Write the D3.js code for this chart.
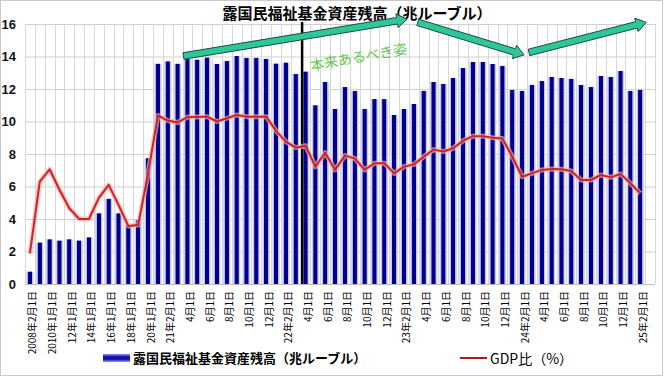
<!DOCTYPE html>
<html>
<head>
<meta charset="utf-8">
<script src="https://cdn.jsdelivr.net/npm/d3@7/dist/d3.min.js"></script>
<style>
  html, body { margin: 0; padding: 0; background: #fff; }
  svg { display: block; }
</style>
</head>
<body>
<svg id="chart" width="665" height="378"></svg>
<script>
// ---------------- DATA ----------------
const categories = [
  "2008年2月1日","2009年1月1日","2010年1月1日","11年1月1日","12年1月1日","13年1月1日",
  "14年1月1日","15年1月1日","16年1月1日","17年1月1日","18年1月1日","19年1月1日",
  "20年1月1日","21年1月1日","21年2月1日","3月1日","4月1日","5月1日","6月1日","7月1日",
  "8月1日","9月1日","10月1日","11月1日","12月1日","22年1月1日","22年2月1日","3月1日",
  "4月1日","5月1日","6月1日","7月1日","8月1日","9月1日","10月1日","11月1日","12月1日",
  "23年1月1日","23年2月1日","3月1日","4月1日","5月1日","6月1日","7月1日","8月1日",
  "9月1日","10月1日","11月1日","12月1日","24年1月1日","24年2月1日","3月1日","4月1日",
  "5月1日","6月1日","7月1日","8月1日","9月1日","10月1日","11月1日","12月1日",
  "25年1月1日","25年2月1日","25年3月1日"
];

// 露国民福祉基金資産残高（兆ルーブル）
const fundValues = [
  0.76,2.55,2.75,2.67,2.75,2.67,2.87,4.35,5.24,4.35,3.63,3.94,7.74,
  13.55,13.7,13.55,13.84,13.8,13.93,13.54,13.72,
  14.03,13.91,13.91,13.85,13.56,13.62,12.92,13.07,
  11.0,12.43,10.77,12.12,11.88,10.77,11.38,11.38,10.4,10.77,11.08,11.88,12.43,12.31,
  12.68,13.29,13.66,13.66,13.54,13.42,11.94,11.88,12.25,12.49,12.74,12.68,12.62,12.25,12.12,12.8,12.74,13.11,11.88,11.94,
  null
];

// GDP比（%）
const gdpRatio = [
  1.89,6.3,7.06,5.8,4.66,4.0,4.0,5.3,6.1,4.87,3.57,3.63,6.8,
  10.37,10.06,9.94,10.27,10.27,10.3,10.0,10.2,
  10.4,10.3,10.3,10.3,9.42,8.76,8.39,8.51,
  7.22,8.08,7.02,7.9,7.73,7.02,7.43,7.43,6.81,7.22,7.36,7.83,8.27,8.15,
  8.35,8.82,9.1,9.1,9.0,8.96,7.83,6.6,6.81,7.02,7.08,7.06,6.95,6.4,6.4,6.71,6.56,6.77,6.2,5.58,
  null
];

const yTicks = [0, 2, 4, 6, 8, 10, 12, 14, 16];
const titleText = "露国民福祉基金資産残高（兆ルーブル）";
const legendFund = "露国民福祉基金資産残高（兆ルーブル）";
const legendGdp = "GDP比（%）";
const noteText = "本来あるべき姿";

// ---------------- LAYOUT ----------------
const svg = d3.select("#chart");
const W = 665, H = 378;
const plot = { left: 25, right: 655, top: 24, bottom: 284 };
const JP = "'Noto Sans CJK JP', 'Noto Sans', sans-serif";

const idx = d3.range(categories.length);
const x = d3.scaleBand().domain(idx).range([plot.left, plot.right]).paddingInner(0).paddingOuter(0);
const bw = x.bandwidth();
const xc = i => plot.left + (i + 0.5) * bw;   // fractional-index center helper
const y = d3.scaleLinear().domain([0, 16]).range([plot.bottom, plot.top]);

// outer frame
svg.append("rect").attr("x", 0.5).attr("y", 0.5).attr("width", W - 3).attr("height", H - 3)
  .attr("fill", "#fff").attr("stroke", "#c8c8c8");

const defs = svg.append("defs");
const g1 = defs.append("linearGradient").attr("id", "barGrad").attr("x1", "0").attr("x2", "1").attr("y1", "0").attr("y2", "0");
g1.append("stop").attr("offset", "0%").attr("stop-color", "#e4e4fa");
g1.append("stop").attr("offset", "20%").attr("stop-color", "#b9b9ee");
g1.append("stop").attr("offset", "28%").attr("stop-color", "#00008a");
g1.append("stop").attr("offset", "72%").attr("stop-color", "#00008a");
g1.append("stop").attr("offset", "80%").attr("stop-color", "#b9b9ee");
g1.append("stop").attr("offset", "100%").attr("stop-color", "#e4e4fa");

const g2 = defs.append("linearGradient").attr("id", "legGrad").attr("x1", "0").attr("x2", "0").attr("y1", "0").attr("y2", "1");
g2.append("stop").attr("offset", "0%").attr("stop-color", "#9a9af0");
g2.append("stop").attr("offset", "35%").attr("stop-color", "#1010b0");
g2.append("stop").attr("offset", "65%").attr("stop-color", "#1010b0");
g2.append("stop").attr("offset", "100%").attr("stop-color", "#9a9af0");

// gridlines
const grid = svg.append("g");
grid.selectAll("line.h").data(yTicks).enter().append("line")
  .attr("x1", plot.left).attr("x2", plot.right)
  .attr("y1", d => y(d) + 0.5).attr("y2", d => y(d) + 0.5)
  .attr("stroke", "#cfcfcf").attr("stroke-width", 1);
grid.selectAll("line.v").data(d3.range(categories.length + 1)).enter().append("line")
  .attr("x1", d => Math.round(plot.left + d * bw) + 0.5).attr("x2", d => Math.round(plot.left + d * bw) + 0.5)
  .attr("y1", plot.top).attr("y2", plot.bottom)
  .attr("stroke", "#d6d6d6").attr("stroke-width", 1);

// bars
const barW = bw * 0.78;
svg.append("g").selectAll("rect").data(idx.filter(i => fundValues[i] != null)).enter().append("rect")
  .attr("x", i => x(i) + (bw - barW) / 2)
  .attr("width", barW)
  .attr("y", i => y(fundValues[i]))
  .attr("height", i => y(0) - y(fundValues[i]))
  .attr("fill", "url(#barGrad)");

// axis baseline
svg.append("line").attr("x1", plot.left).attr("x2", plot.right).attr("y1", plot.bottom + 0.5).attr("y2", plot.bottom + 0.5)
  .attr("stroke", "#bdbdbd");

// black vertical marker line
svg.append("line").attr("x1", xc(27.65)).attr("x2", xc(27.65)).attr("y1", plot.top - 2).attr("y2", plot.bottom)
  .attr("stroke", "#000").attr("stroke-width", 2.5);

// GDP line with glow
const lineGen = d3.line().defined(i => gdpRatio[i] != null)
  .x(i => xc(i)).y(i => y(gdpRatio[i])).curve(d3.curveLinear);
svg.append("path").datum(idx).attr("d", lineGen).attr("fill", "none")
  .attr("stroke", "#f4b0b0").attr("stroke-width", 5).attr("stroke-opacity", 0.7).attr("stroke-linejoin", "round");
svg.append("path").datum(idx).attr("d", lineGen).attr("fill", "none")
  .attr("stroke", "#cf2222").attr("stroke-width", 2).attr("stroke-linejoin", "round");

// y axis labels
const yAxis = d3.axisLeft(y).tickValues(yTicks).tickSize(0).tickPadding(0);
const ya = svg.append("g").attr("transform", `translate(${plot.left - 9},0)`).call(yAxis);
ya.select(".domain").remove();
ya.selectAll("text").attr("font-family", "'Liberation Sans', Arial, sans-serif")
  .attr("font-size", 13).attr("font-weight", "bold").attr("fill", "#111");

// x axis labels (every other category)
const xAxis = d3.axisBottom(x).tickValues(idx.filter(i => i % 2 === 0 && fundValues[i] != null))
  .tickFormat(i => categories[i]).tickSize(0).tickPadding(0);
const xa = svg.append("g").attr("transform", `translate(0,${plot.bottom})`).call(xAxis);
xa.select(".domain").remove();
xa.selectAll("text")
  .attr("font-family", JP).attr("font-size", 10).attr("fill", "#000")
  .attr("text-anchor", "end")
  .attr("transform", "rotate(-90)")
  .attr("x", -7).attr("y", 3).attr("dy", "0.35em");

// title
svg.append("text").attr("x", 357).attr("y", 19).attr("text-anchor", "middle")
  .attr("font-family", JP).attr("font-size", 15).attr("font-weight", "bold").attr("fill", "#000")
  .text(titleText);

// arrows
function blockArrow(x0, y0, x1, y1, sw, hw, hl) {
  const dx = x1 - x0, dy = y1 - y0, L = Math.hypot(dx, dy);
  const ux = dx / L, uy = dy / L, nx = -uy, ny = ux;
  const bx = x1 - ux * hl, by = y1 - uy * hl;
  const pts = [
    [x0 + nx * sw, y0 + ny * sw], [bx + nx * sw, by + ny * sw], [bx + nx * hw, by + ny * hw],
    [x1, y1], [bx - nx * hw, by - ny * hw], [bx - nx * sw, by - ny * sw], [x0 - nx * sw, y0 - ny * sw]
  ];
  return "M" + pts.map(p => p.join(",")).join("L") + "Z";
}
const arrows = [
  [xc(15.6), y(14.03), xc(38.3), y(16.3)],
  [xc(39.4), y(16.1), xc(50.2), y(14.1)],
  [xc(50.7), y(14.25), xc(62.6), y(16.1)]
];
svg.append("g").selectAll("path").data(arrows).enter().append("path")
  .attr("d", a => blockArrow(a[0], a[1], a[2], a[3], 3.3, 7, 10))
  .attr("fill", "#2ec79a").attr("stroke", "#1c4a3c").attr("stroke-width", 1);

// note text
svg.append("text").attr("transform", `translate(${xc(33.4)},${y(13.95)}) rotate(-10)`)
  .attr("text-anchor", "middle").attr("dy", "0.35em")
  .attr("font-family", JP).attr("font-size", 14).attr("fill", "#62c84c")
  .text(noteText);

// legend
const leg = svg.append("g");
leg.append("rect").attr("x", 103).attr("y", 354).attr("width", 27).attr("height", 8).attr("fill", "url(#legGrad)");
leg.append("text").attr("x", 133).attr("y", 363).attr("font-family", JP).attr("font-size", 13)
  .attr("font-weight", "bold").attr("fill", "#000").text(legendFund);
leg.append("line").attr("x1", 460).attr("x2", 487).attr("y1", 358).attr("y2", 358)
  .attr("stroke", "#b01818").attr("stroke-width", 2);
leg.append("text").attr("x", 490).attr("y", 364).attr("font-family", JP).attr("font-size", 14)
  .attr("fill", "#000").text(legendGdp);
</script>
</body>
</html>
